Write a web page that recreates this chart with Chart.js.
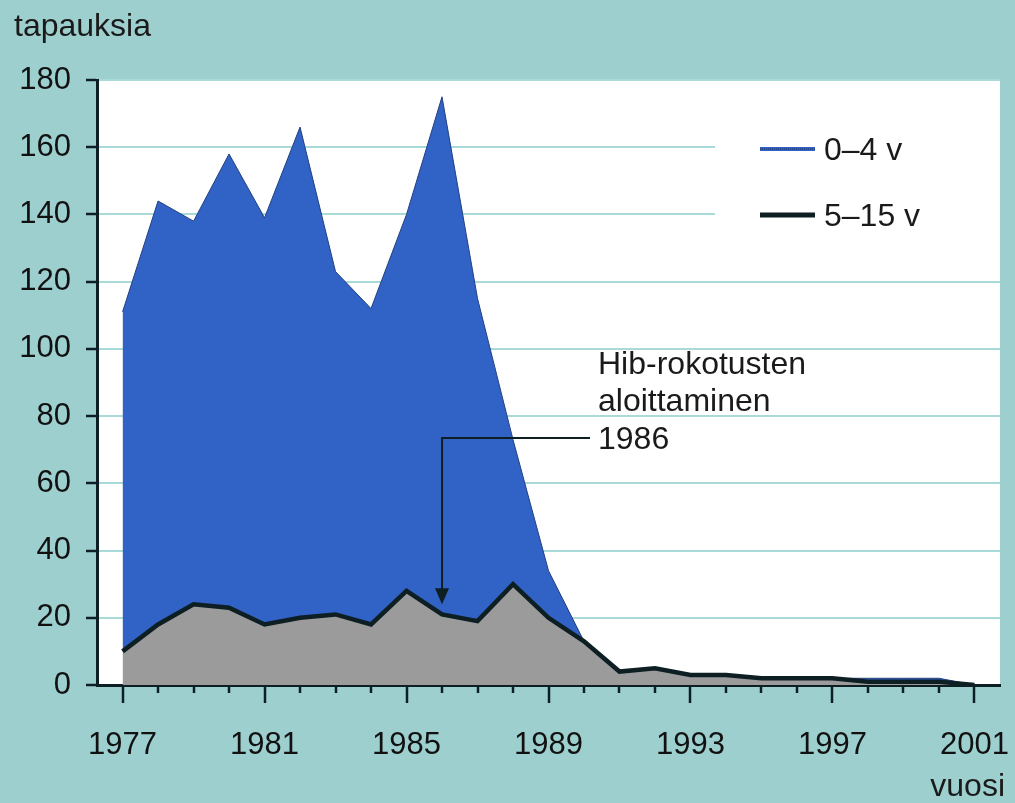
<!DOCTYPE html>
<html>
<head>
<meta charset="utf-8">
<script src="https://cdn.jsdelivr.net/npm/chart.js@4"></script>
<style>
  html, body { margin: 0; padding: 0; background: #9ecfcf; overflow: hidden; }
  canvas { display: block; }
</style>
</head>
<body>
<canvas id="chart" width="1015" height="803"></canvas>
<script>
// years on the x axis
const years = [1977, 1978, 1979, 1980, 1981, 1982, 1983, 1984, 1985, 1986, 1987, 1988, 1989,
    1990, 1991, 1992, 1993, 1994, 1995, 1996, 1997, 1998, 1999, 2000, 2001];
// 5–15 v cases (bottom, grey)
const cases5to15 = [10, 18, 24, 23, 18, 20, 21, 18, 28, 21, 19, 30, 20,
    13, 4, 5, 3, 3, 2, 2, 2, 1, 1, 1, 0];
// 0–4 v cases (stacked on top, blue)
const cases0to4 = [101, 126, 114, 135, 121, 146, 102, 94, 112, 154, 96, 43, 14,
    0, 0, 0, 0, 0, 0, 0, 0, 1, 1, 1, 0];
const yTicks = [0, 20, 40, 60, 80, 100, 120, 140, 160, 180];
const labelYears = [1977, 1981, 1985, 1989, 1993, 1997, 2001];
const seriesNames = ['0–4 v', '5–15 v'];

const FONT = '"Liberation Sans", Arial, Helvetica, sans-serif';
const DARK = '#0e1f24';
const BLUE = '#3162c6';
const GREY = '#9b9b9b';
const GRID = '#a9dada';

const toPoints = arr => arr.map((v, i) => ({ x: years[i], y: v }));

// legend box, annotation arrow and the extra text
const decorPlugin = {
    id: 'decor',
    beforeDatasetsDraw(chart) {
        const { ctx, chartArea } = chart;
        ctx.save();
        ctx.fillStyle = '#ffffff';
        ctx.fillRect(715, 110, chartArea.right - 715, 135);
        ctx.restore();
    },
    afterDraw(chart) {
        const { ctx, chartArea } = chart;
        const xs = chart.scales.x, ys = chart.scales.y;
        ctx.save();

        // minor/major ticks on x axis
        ctx.strokeStyle = DARK;
        ctx.lineWidth = 2.5;
        years.forEach(yr => {
            const px = Math.round(xs.getPixelForValue(yr));
            const len = labelYears.includes(yr) ? 18 : 8;
            ctx.beginPath();
            ctx.moveTo(px, chartArea.bottom);
            ctx.lineTo(px, chartArea.bottom + len);
            ctx.stroke();
        });

        // legend
        ctx.lineWidth = 4;
        ctx.strokeStyle = BLUE;
        ctx.beginPath(); ctx.moveTo(760, 149); ctx.lineTo(815, 149); ctx.stroke();
        ctx.lineWidth = 1;
        ctx.setLineDash([1, 1]);
        ctx.strokeStyle = '#1c2f5a';
        ctx.beginPath(); ctx.moveTo(760, 149); ctx.lineTo(815, 149); ctx.stroke();
        ctx.setLineDash([]);
        ctx.lineWidth = 5;
        ctx.strokeStyle = DARK;
        ctx.beginPath(); ctx.moveTo(760, 215); ctx.lineTo(815, 215); ctx.stroke();

        ctx.fillStyle = '#1a1a1a';
        ctx.font = '32px ' + FONT;
        ctx.textBaseline = 'middle';
        ctx.textAlign = 'left';
        ctx.fillText(seriesNames[0], 824, 151);
        ctx.fillText(seriesNames[1], 824, 217);

        // annotation: vaccination start 1986
        const ax = xs.getPixelForValue(1986);
        const ay = ys.getPixelForValue(73.5);
        const tipY = ys.getPixelForValue(24);
        ctx.strokeStyle = DARK;
        ctx.lineWidth = 2;
        ctx.beginPath();
        ctx.moveTo(590, ay);
        ctx.lineTo(ax, ay);
        ctx.lineTo(ax, tipY - 12);
        ctx.stroke();
        ctx.fillStyle = DARK;
        ctx.beginPath();
        ctx.moveTo(ax - 7, tipY - 16);
        ctx.lineTo(ax + 7, tipY - 16);
        ctx.lineTo(ax, tipY);
        ctx.closePath();
        ctx.fill();

        ctx.fillStyle = '#1a1a1a';
        ctx.textBaseline = 'alphabetic';
        ctx.fillText('Hib-rokotusten', 598, 374);
        ctx.fillText('aloittaminen', 598, 411);
        ctx.fillText('1986', 598, 449);

        // axis titles
        ctx.fillText('tapauksia', 14, 36);
        ctx.textAlign = 'right';
        ctx.fillText('vuosi', 1005, 796);
        ctx.restore();
    }
};

new Chart(document.getElementById('chart'), {
    type: 'line',
    data: {
        datasets: [
            {
                label: seriesNames[1],
                data: toPoints(cases5to15),
                borderColor: DARK,
                borderWidth: 4.5,
                backgroundColor: GREY,
                fill: 'origin',
                pointRadius: 0,
                tension: 0,
                borderJoinStyle: 'miter'
            },
            {
                label: seriesNames[0],
                data: toPoints(cases0to4),
                borderColor: '#22407f',
                borderWidth: 1,
                backgroundColor: BLUE,
                fill: '-1',
                pointRadius: 0,
                tension: 0
            }
        ]
    },
    options: {
        responsive: false,
        animation: false,
        devicePixelRatio: 1,
        layout: { autoPadding: false, padding: { top: 80, right: 15, left: 0, bottom: 0 } },
        plugins: {
            legend: { display: false },
            tooltip: { enabled: false }
        },
        scales: {
            x: {
                type: 'linear',
                min: 1976.28,
                max: 2001.72,
                afterBuildTicks: scale => { scale.ticks = years.map(v => ({ value: v })); },
                afterFit: scale => {
                    scale.height = 118;
                    scale.paddingLeft = 0;
                    scale.paddingRight = 0;
                },
                ticks: {
                    autoSkip: false,
                    maxRotation: 0,
                    padding: 34,
                    color: '#111',
                    font: { family: FONT, size: 31 },
                    callback: v => labelYears.includes(v) ? String(v) : ''
                },
                grid: { display: false },
                border: { display: true, color: DARK, width: 3 }
            },
            y: {
                stacked: true,
                min: 0,
                max: 180,
                afterBuildTicks: scale => { scale.ticks = yTicks.map(v => ({ value: v })); },
                afterFit: scale => {
                    scale.width = 97;
                    scale.paddingTop = 0;
                    scale.paddingBottom = 0;
                },
                ticks: {
                    padding: 15,
                    color: '#111',
                    font: { family: FONT, size: 31 }
                },
                grid: {
                    color: GRID,
                    lineWidth: 2,
                    tickLength: 11,
                    tickColor: DARK,
                    tickWidth: 2.5
                },
                border: { display: true, color: DARK, width: 3 }
            }
        }
    },
    plugins: [decorPlugin, {
        id: 'bg',
        beforeDraw(chart) {
            const { ctx, chartArea } = chart;
            ctx.save();
            ctx.fillStyle = '#9ecfcf';
            ctx.fillRect(0, 0, chart.width, chart.height);
            ctx.fillStyle = '#ffffff';
            ctx.fillRect(chartArea.left, chartArea.top, chartArea.right - chartArea.left, chartArea.bottom - chartArea.top);
            ctx.restore();
        }
    }]
});
</script>
</body>
</html>
